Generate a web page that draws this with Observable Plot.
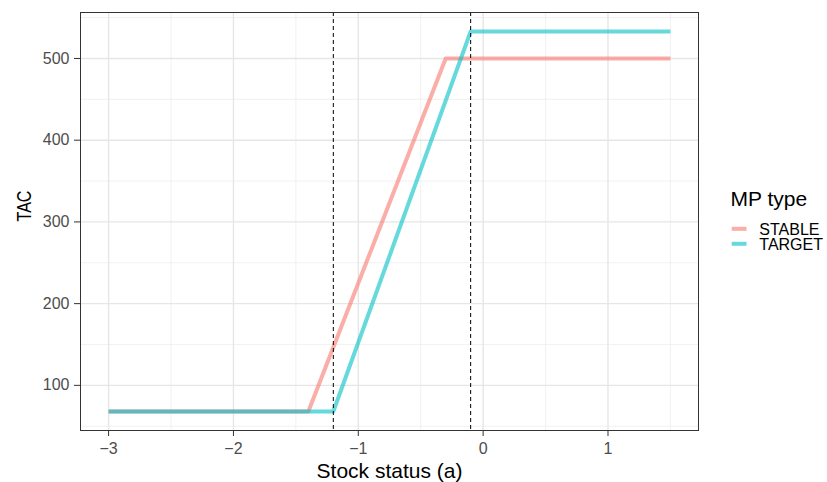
<!DOCTYPE html>
<html>
<head>
<meta charset="utf-8">
<script src="https://cdn.jsdelivr.net/npm/d3@7"></script>
<script src="https://cdn.jsdelivr.net/npm/@observablehq/plot@0.6"></script>
<style>
  body { margin: 0; background: #fff; }
  #wrap { position: relative; width: 827px; height: 482px; font-family: "Liberation Sans", Arial, sans-serif; }
  #wrap svg { display: block; }
</style>
</head>
<body>
<div id="wrap"></div>
<script>
// Harvest control rules: TAC as a function of stock status, per MP type
const mpTypes = ["STABLE", "TARGET"];
const mpColors = ["#F8766D", "#00BFC4"];

const statusStable = [-3, -1.4, -0.3, 1.5];
const tacStable = [68, 68, 500, 500];
const statusTarget = [-3, -1.2, -0.1, 1.5];
const tacTarget = [68, 68, 533, 533];

// reference stock-status levels (dashed verticals)
const refLevels = [-1.2, -0.1];

const xTicks = [-3, -2, -1, 0, 1];
const xMinor = [-2.5, -1.5, -0.5, 0.5, 1.5];
const yTicks = [100, 200, 300, 400, 500];
const yMinor = [50, 150, 250, 350, 450, 550];

const series = [
  {type: mpTypes[0], status: statusStable, tac: tacStable},
  {type: mpTypes[1], status: statusTarget, tac: tacTarget}
];
const rows = series.flatMap(s => s.status.map((x, i) => ({type: s.type, status: x, tac: s.tac[i]})));

const font = "'Liberation Sans', Arial, sans-serif";
const signed = d => (d < 0 ? "\u2212" + Math.abs(d) : String(d));

const chart = Plot.plot({
  width: 827,
  height: 482,
  marginLeft: 80,
  marginRight: 129,
  marginTop: 12,
  marginBottom: 52,
  style: {fontFamily: font, background: "#fff", color: "#333"},
  x: {domain: [-3.225, 1.725]},
  y: {domain: [44.75, 556.25]},
  color: {domain: mpTypes, range: mpColors},
  marks: [
    Plot.ruleX(xMinor, {stroke: "#ebebeb", strokeWidth: 0.7}),
    Plot.ruleY(yMinor, {stroke: "#ebebeb", strokeWidth: 0.7}),
    Plot.ruleX(xTicks, {stroke: "#e6e6e6", strokeWidth: 1.4}),
    Plot.ruleY(yTicks, {stroke: "#e6e6e6", strokeWidth: 1.4}),
    Plot.line(rows, {
      x: "status", y: "tac", z: "type", stroke: "type",
      strokeWidth: 4, strokeOpacity: 0.6, strokeLinecap: "butt", strokeLinejoin: "round"
    }),
    Plot.ruleX(refLevels, {stroke: "#000", strokeWidth: 1, strokeDasharray: "4,3"}),
    Plot.frame({stroke: "#333", strokeWidth: 1}),
    Plot.axisX({ticks: xTicks, tickFormat: signed, tickSize: 6, tickPadding: 6, fontSize: 16, stroke: "#333", fill: "#4d4d4d", label: null}),
    Plot.axisY({ticks: yTicks, tickFormat: signed, tickSize: 6, tickPadding: 5, fontSize: 16, stroke: "#333", fill: "#4d4d4d", label: null}),
    Plot.text(["Stock status (a)"], {frameAnchor: "bottom", dy: 41, lineAnchor: "middle", fontSize: 21, fill: "#000"}),
    Plot.text(["TAC"], {frameAnchor: "left", dx: -56, rotate: -90, lineAnchor: "middle", fontSize: 21, fill: "#000"})
  ]
});

// rotated axis title is set narrow
d3.select(chart).selectAll("text")
  .filter(function () { return this.textContent === "TAC"; })
  .attr("textLength", 31)
  .attr("lengthAdjust", "spacingAndGlyphs");

const wrap = document.getElementById("wrap");
wrap.appendChild(chart);

// legend to the right of the panel
const legend = d3.create("svg")
  .attr("width", 127)
  .attr("height", 80)
  .style("position", "absolute")
  .style("left", "700px")
  .style("top", "180px")
  .style("font-family", font);

legend.append("text")
  .attr("x", 30.5)
  .attr("y", 25.7)
  .attr("font-size", 21)
  .attr("fill", "#000")
  .text("MP type");

mpTypes.forEach((t, i) => {
  const cy = 48.8 + i * 15;
  legend.append("line")
    .attr("x1", 31.7).attr("x2", 46.5)
    .attr("y1", cy).attr("y2", cy)
    .attr("stroke", mpColors[i])
    .attr("stroke-opacity", 0.6)
    .attr("stroke-width", 4);
  legend.append("text")
    .attr("x", 59.3)
    .attr("y", cy + 6)
    .attr("font-size", 16)
    .attr("fill", "#000")
    .text(t);
});

wrap.appendChild(legend.node());
</script>
</body>
</html>
